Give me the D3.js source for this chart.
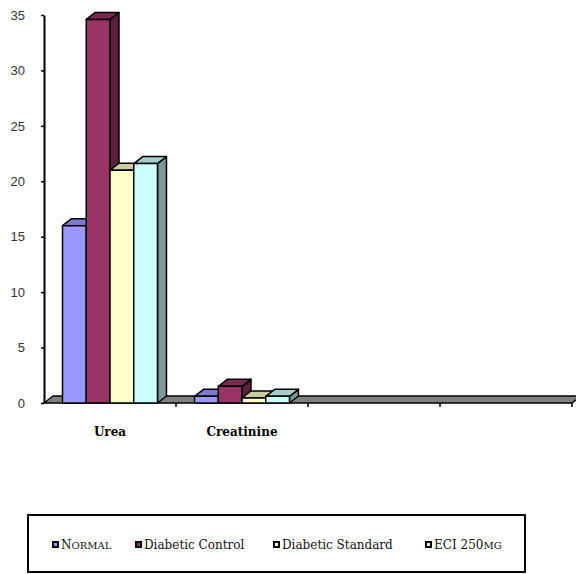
<!DOCTYPE html>
<html>
<head>
<meta charset="utf-8">
<script src="https://cdn.jsdelivr.net/npm/d3@7"></script>
<style>
  body { margin: 0; background: #fff; }
  svg { display: block; }
  .y-axis text { font-family: "Liberation Sans", Arial, sans-serif; font-size: 13px; fill: #333; }
  .cat-label { font-family: "DejaVu Serif", serif; font-size: 12px; font-weight: bold; }
  .legend text { font-family: "DejaVu Serif", serif; font-size: 12px; fill: #111; }
</style>
</head>
<body>
<script>
'use strict';

// Data
const categories = ['Urea', 'Creatinine', '', ''];
const seriesNames = ['Normal', 'Diabetic Control', 'Diabetic Standard', 'ECI 250mg'];
const normal = [16.0, 0.6];
const diabeticControl = [34.6, 1.5];
const diabeticStandard = [21.0, 0.45];
const eci250 = [21.6, 0.6];
const yTicks = [0, 5, 10, 15, 20, 25, 30, 35];

const seriesValues = [normal, diabeticControl, diabeticStandard, eci250];
const COLORS = [
  { front: '#9999ff', top: '#7a7ad6', side: '#6666b3' },
  { front: '#993366', top: '#7a2952', side: '#5c1f3d' },
  { front: '#ffffcc', top: '#cccca3', side: '#b3b38f' },
  { front: '#ccffff', top: '#a3cccc', side: '#7a9999' }
];

const WIDTH = 576;
const HEIGHT = 574;
const DX = 9;
const DY = 7;

const svg = d3.select('body').append('svg')
  .attr('width', WIDTH)
  .attr('height', HEIGHT);

const x = d3.scaleBand()
  .domain(d3.range(categories.length))
  .range([44, 572])
  .padding(0);

const x1 = d3.scaleBand()
  .domain(d3.range(seriesNames.length))
  .range([0, x.bandwidth()])
  .paddingInner(0)
  .paddingOuter(0.78);

const y = d3.scaleLinear()
  .domain([0, 35])
  .range([403, 15]);

// Floor
const x0 = x.range()[0], xEnd = x.range()[1], base = y(0);
svg.append('polygon')
  .attr('points', [[x0, base], [x0 + DX, base - DY], [xEnd + DX, base - DY], [xEnd, base]].join(' '))
  .attr('fill', '#808080')
  .attr('stroke', '#000')
  .attr('stroke-width', 1.5)
  .attr('stroke-linejoin', 'round');

// Y axis
const yAxis = svg.append('g')
  .attr('class', 'y-axis')
  .attr('transform', 'translate(44,0)')
  .call(d3.axisLeft(y).tickValues(yTicks).tickSize(3).tickPadding(16).tickSizeOuter(0));
yAxis.select('.domain').attr('stroke', '#000').attr('stroke-width', 2);
yAxis.selectAll('.tick line').attr('stroke', '#000').attr('stroke-width', 1.5);

// X ticks at band edges
svg.append('g')
  .selectAll('line')
  .data(d3.range(categories.length))
  .enter()
  .append('line')
    .attr('x1', i => x(i) + x.bandwidth())
    .attr('x2', i => x(i) + x.bandwidth())
    .attr('y1', base)
    .attr('y2', base + 4)
    .attr('stroke', '#000')
    .attr('stroke-width', 1.5);

// Bars
const bars = [];
categories.forEach((c, ci) => {
  seriesValues.forEach((vals, si) => {
    if (vals[ci] === undefined) return;
    bars.push({ ci, si, value: vals[ci] });
  });
});

const barGroups = svg.append('g')
  .selectAll('g')
  .data(bars)
  .enter()
  .append('g');

barGroups.each(function (d) {
  const g = d3.select(this);
  const left = x(d.ci) + x1(d.si);
  const right = left + x1.bandwidth();
  const top = y(d.value);
  const col = COLORS[d.si];

  g.append('polygon')
    .attr('points', [[right, base], [right + DX, base - DY], [right + DX, top - DY], [right, top]].join(' '))
    .attr('fill', col.side);
  g.append('polygon')
    .attr('points', [[left, top], [left + DX, top - DY], [right + DX, top - DY], [right, top]].join(' '))
    .attr('fill', col.top);
  g.append('rect')
    .attr('x', left)
    .attr('y', top)
    .attr('width', right - left)
    .attr('height', base - top)
    .attr('fill', col.front);
  g.selectAll('*')
    .attr('stroke', '#000')
    .attr('stroke-width', 1.5)
    .attr('stroke-linejoin', 'round');
});

// Category labels
svg.append('g')
  .selectAll('text')
  .data(categories)
  .enter()
  .append('text')
    .attr('class', 'cat-label')
    .attr('x', (d, i) => x(i) + x.bandwidth() / 2)
    .attr('y', 436)
    .attr('text-anchor', 'middle')
    .text(d => d);

// Legend
const legend = svg.append('g').attr('class', 'legend');
legend.append('rect')
  .attr('x', 28)
  .attr('y', 515)
  .attr('width', 497)
  .attr('height', 57)
  .attr('fill', '#fff')
  .attr('stroke', '#000')
  .attr('stroke-width', 2);

const legendX = [52, 135, 273, 425];
const items = legend.selectAll('.item')
  .data(seriesNames)
  .enter()
  .append('g')
    .attr('class', 'item')
    .attr('transform', (d, i) => 'translate(' + legendX[i] + ',549)');

items.append('rect')
  .attr('x', 1)
  .attr('y', -7)
  .attr('width', 5)
  .attr('height', 5)
  .attr('fill', (d, i) => COLORS[i].front)
  .attr('stroke', '#000')
  .attr('stroke-width', 2);

// Small caps drawn by hand: lower-case runs become smaller upper-case
items.append('text')
  .attr('x', 9)
  .attr('y', 0)
  .each(function (d, i) {
    const t = d3.select(this);
    if (i === 0) {
      t.append('tspan').text(d[0]);
      t.append('tspan').style('font-size', '10px').text(d.slice(1).toUpperCase());
    } else if (i === 3) {
      t.append('tspan').text(d.slice(0, -2));
      t.append('tspan').style('font-size', '10px').text(d.slice(-2).toUpperCase());
    } else {
      t.text(d);
    }
  });
</script>
</body>
</html>
